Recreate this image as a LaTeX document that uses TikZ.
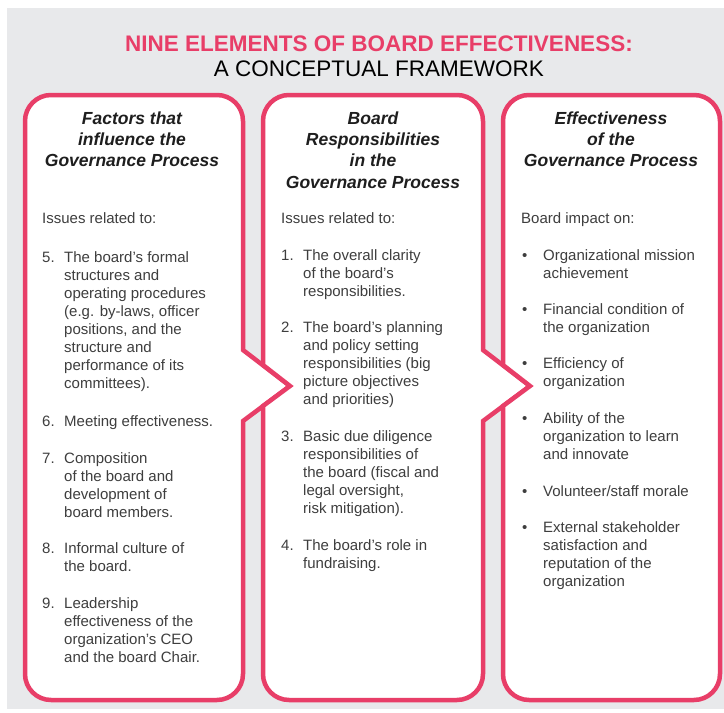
\documentclass[tikz,border=0pt]{standalone}
\usepackage{fontspec}
\setmainfont{Liberation Sans}
\usetikzlibrary{positioning}

\definecolor{brandpink}{RGB}{232,62,104}
\definecolor{bggray}{RGB}{232,233,235}
\definecolor{headgray}{RGB}{30,30,30}
\definecolor{bodygray}{RGB}{62,62,62}

\newcommand\titlefont{\fontsize{22.5}{25}\selectfont}
\newcommand\headfont{\fontsize{17.5}{21.3}\selectfont\bfseries\itshape}
\newcommand\bodyfont{\fontsize{15}{18}\selectfont}

\tikzset{
	panel/.style={draw=brandpink, line width=4.5pt, fill=white, line join=miter},
	title/.style={font=\titlefont, anchor=base, inner sep=0pt},
	head/.style={font=\headfont, text=headgray, align=center, anchor=north, inner sep=0pt},
	issue/.style={font=\bodyfont, text=bodygray, align=left, anchor=north west, inner sep=0pt},
}

\begin{document}
\begin{tikzpicture}[x=1pt, y=-1pt]
	\useasboundingbox (0,0) rectangle (724,713);
	\fill[bggray] (7,8) rectangle (724,709);

	% title
	\node[title, text=brandpink, font=\titlefont\bfseries] (ttl-top) at (379,51) {NINE ELEMENTS OF BOARD EFFECTIVENESS:};
	\node[title, text=black] (ttl-sub) at (379,76) {A CONCEPTUAL FRAMEWORK};

	% the three panels, each pointing into the next one
	\draw[panel] (25,400) -- (25,121) arc(180:270:26) -- (217,95) arc(270:360:26)
		-- (243,350) -- (290,386) -- (243,421)
		-- (243,674) arc(0:90:26) -- (51,700) arc(90:180:26) -- cycle;
	\draw[panel] (263,365) -- (263,121) arc(180:270:26) -- (457,95) arc(270:360:26)
		-- (483,350) -- (530,386) -- (483,421)
		-- (483,674) arc(0:90:26) -- (289,700) arc(90:180:26)
		-- (263,406) -- (290,386) -- cycle;
	\draw[panel] (503,365) -- (503,121) arc(180:270:26) -- (694,95) arc(270:360:26)
		-- (720,674) arc(0:90:26) -- (529,700) arc(90:180:26)
		-- (503,406) -- (530,386) -- cycle;

	% factors
	\node[head] (fac-head) at (132,109) {\strut Factors that\\influence the\\Governance Process};
	\node[issue] (fac-intro) at (42,211) {\strut Issues related to:};
	\node[issue] (fac-n5) at (42,250) {\strut 5.};
	\node[issue] (fac-i5) at (64,250) {\strut The board's formal\\structures and\\operating procedures\\(e.g. by-laws, officer\\positions, and the\\structure and\\performance of its\\committees).};
	\node[issue] (fac-n6) at (42,414) {\strut 6.};
	\node[issue] (fac-i6) at (64,414) {\strut Meeting effectiveness.};
	\node[issue] (fac-n7) at (42,451) {\strut 7.};
	\node[issue] (fac-i7) at (64,451) {\strut Composition\\of the board and\\development of\\board members.};
	\node[issue] (fac-n8) at (42,541) {\strut 8.};
	\node[issue] (fac-i8) at (64,541) {\strut Informal culture of\\the board.};
	\node[issue] (fac-n9) at (42,596) {\strut 9.};
	\node[issue] (fac-i9) at (64,596) {\strut Leadership\\effectiveness of the\\organization's CEO\\and the board Chair.};

	% responsibilities
	\node[head] (resp-head) at (373,109) {\strut Board\\Responsibilities\\in the\\Governance Process};
	\node[issue] (resp-intro) at (281,211) {\strut Issues related to:};
	\node[issue] (resp-n1) at (281,248) {\strut 1.};
	\node[issue] (resp-i1) at (303,248) {\strut The overall clarity\\of the board's\\responsibilities.};
	\node[issue] (resp-n2) at (281,320) {\strut 2.};
	\node[issue] (resp-i2) at (303,320) {\strut The board's planning\\and policy setting\\responsibilities (big\\picture objectives\\and priorities)};
	\node[issue] (resp-n3) at (281,429) {\strut 3.};
	\node[issue] (resp-i3) at (303,429) {\strut Basic due diligence\\responsibilities of\\the board (fiscal and\\legal oversight,\\risk mitigation).};
	\node[issue] (resp-n4) at (281,538) {\strut 4.};
	\node[issue] (resp-i4) at (303,538) {\strut The board's role in\\fundraising.};

	% effectiveness
	\node[head] (eff-head) at (611,109) {\strut Effectiveness\\of the\\Governance Process};
	\node[issue] (eff-intro) at (521,211) {\strut Board impact on:};
	\node[issue] (eff-b1) at (522,248) {\strut\textbullet};
	\node[issue] (eff-i1) at (543,248) {\strut Organizational mission\\achievement};
	\node[issue] (eff-b2) at (522,302) {\strut\textbullet};
	\node[issue] (eff-i2) at (543,302) {\strut Financial condition of\\the organization};
	\node[issue] (eff-b3) at (522,356) {\strut\textbullet};
	\node[issue] (eff-i3) at (543,356) {\strut Efficiency of\\organization};
	\node[issue] (eff-b4) at (522,411) {\strut\textbullet};
	\node[issue] (eff-i4) at (543,411) {\strut Ability of the\\organization to learn\\and innovate};
	\node[issue] (eff-b5) at (522,484) {\strut\textbullet};
	\node[issue] (eff-i5) at (543,484) {\strut Volunteer/staff morale};
	\node[issue] (eff-b6) at (522,520) {\strut\textbullet};
	\node[issue] (eff-i6) at (543,520) {\strut External stakeholder\\satisfaction and\\reputation of the\\organization};
\end{tikzpicture}
\end{document}
